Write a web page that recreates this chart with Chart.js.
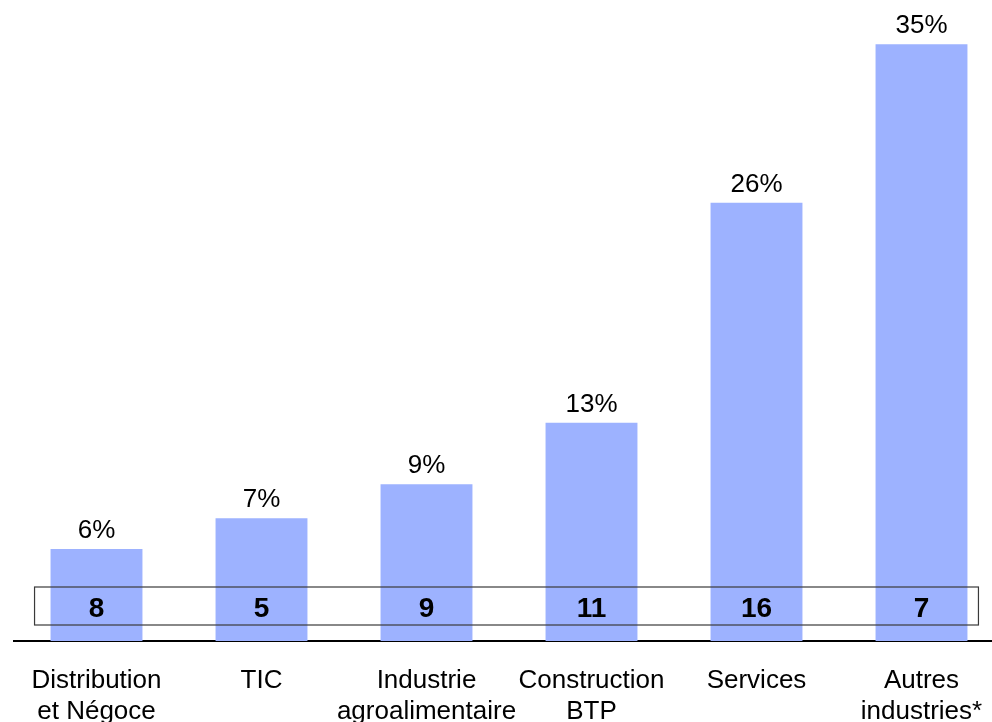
<!DOCTYPE html>
<html>
<head>
<meta charset="utf-8">
<script src="https://cdn.jsdelivr.net/npm/chart.js@4.4.1/dist/chart.umd.min.js"></script>
<style>
  html, body { margin: 0; padding: 0; background: #fff; overflow: hidden; }
  #wrap { position: absolute; left: 0; top: 0; width: 1004px; height: 722px; }
</style>
</head>
<body>
<div id="wrap"><canvas id="sectorChart"></canvas></div>
<script>
// categories (multi-line labels) and values
const categories = [
    ['Distribution', 'et Négoce'],
    ['TIC'],
    ['Industrie', 'agroalimentaire'],
    ['Construction', 'BTP'],
    ['Services'],
    ['Autres', 'industries*']
];
const shares = [5.4, 7.2, 9.2, 12.8, 25.7, 35.0];     // bar heights (%)
const shareLabels = ['6%', '7%', '9%', '13%', '26%', '35%'];
const counts = [8, 5, 9, 11, 16, 7];                 // numbers in the box

const FONT = '"Liberation Sans", Arial, Helvetica, sans-serif';

// draws the % above each bar and the boxed row of counts
const labelsPlugin = {
    id: 'labels',
    afterDatasetsDraw(chart) {
        const ctx = chart.ctx;
        const meta = chart.getDatasetMeta(0);
        const area = chart.chartArea;
        ctx.save();
        ctx.fillStyle = '#000';
        ctx.textAlign = 'center';
        ctx.textBaseline = 'alphabetic';
        ctx.font = '26px ' + FONT;
        meta.data.forEach((bar, i) => {
            ctx.fillText(shareLabels[i], bar.x, bar.y - 11);
        });

        // box around the counts
        const first = meta.data[0], last = meta.data[meta.data.length - 1];
        const left = first.x - first.width / 2 - 16;
        const right = last.x + last.width / 2 + 11;
        ctx.strokeStyle = '#3a3a3a';
        ctx.lineWidth = 1.2;
        ctx.strokeRect(left, area.bottom - 54, right - left, 38);

        ctx.font = 'bold 28px ' + FONT;
        meta.data.forEach((bar, i) => {
            ctx.fillText(String(counts[i]), bar.x, area.bottom - 24);
        });
        ctx.restore();
    }
};

const ctx = document.getElementById('sectorChart').getContext('2d');
const myChart = new Chart(ctx, {
    type: 'bar',
    data: {
        labels: categories,
        datasets: [{
            data: shares,
            backgroundColor: '#9db2ff',
            borderWidth: 0,
            barPercentage: 0.557,
            categoryPercentage: 1.0
        }]
    },
    options: {
        responsive: true,
        maintainAspectRatio: false,
        animation: false,
        layout: { padding: { left: 14, right: 0, top: 0, bottom: 0 } },
        plugins: {
            legend: { display: false },
            tooltip: { enabled: false }
        },
        scales: {
            x: {
                grid: { display: false },
                border: { display: true, color: '#000', width: 2 },
                ticks: {
                    color: '#000',
                    font: { family: FONT, size: 26, lineHeight: 1.21 },
                    padding: 16,
                    maxRotation: 0,
                    autoSkip: false
                },
                afterFit(scale) { scale.height = 81; }
            },
            y: {
                display: false,
                min: 0,
                max: 37.6
            }
        }
    },
    plugins: [labelsPlugin]
});
</script>
</body>
</html>
